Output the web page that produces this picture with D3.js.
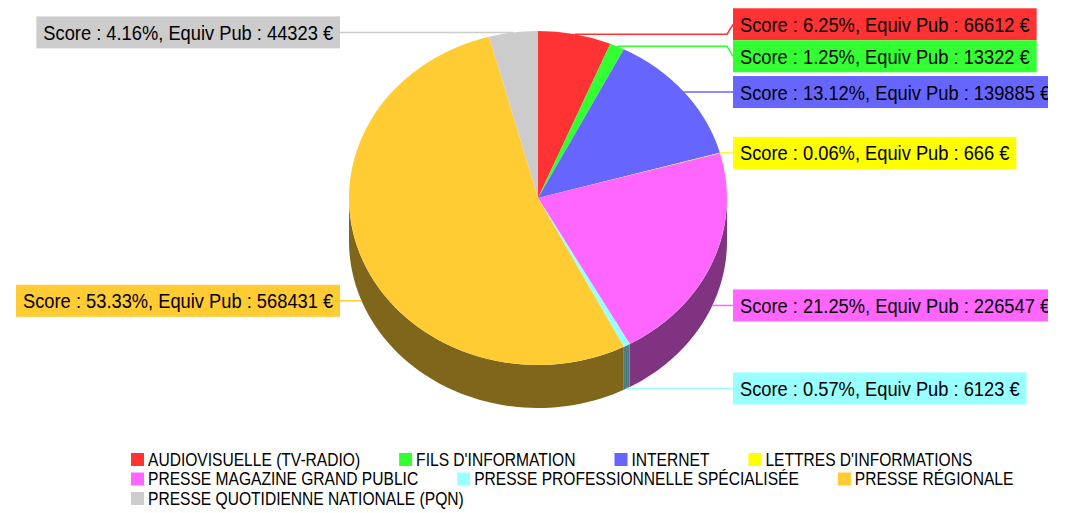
<!DOCTYPE html>
<html>
<head>
<meta charset="utf-8">
<script src="https://cdn.jsdelivr.net/npm/d3@7"></script>
<style>
  body { margin: 0; background: #fff; }
  svg { display: block; font-family: "Liberation Sans", Arial, sans-serif; }
</style>
</head>
<body>
<div id="chart"></div>
<script>
// data
var categories = ["AUDIOVISUELLE (TV-RADIO)", "FILS D'INFORMATION", "INTERNET", "LETTRES D'INFORMATIONS",
    "PRESSE MAGAZINE GRAND PUBLIC", "PRESSE PROFESSIONNELLE SPÉCIALISÉE", "PRESSE RÉGIONALE",
    "PRESSE QUOTIDIENNE NATIONALE (PQN)"];
var scores = [6.25, 1.25, 13.12, 0.06, 21.25, 0.57, 53.33, 4.16];
var equivPub = [66612, 13322, 139885, 666, 226547, 6123, 568431, 44323];
var colors = ["#ff3333", "#33ff33", "#6666ff", "#ffff00", "#ff66ff", "#99ffff", "#ffcc33", "#cccccc"];

var svgWidth = 1066, svgHeight = 513;
var cx = 538, cy = 198, rx = 189, ry = 167, depth = 43;
var yStretch = 1.13;

var svg = d3.select("#chart").append("svg")
    .attr("width", svgWidth)
    .attr("height", svgHeight);

var data = categories.map(function(c, i) {
    return {name: c, score: scores[i], pub: equivPub[i], color: colors[i]};
});

var pie = d3.pie().sort(null).value(d => d.score);
var arcs = pie(data);

function pt(a, dy) {
    return [cx + rx * Math.sin(a), cy - ry * Math.cos(a) + (dy || 0)];
}

// side walls (front half only), half brightness of the slice colour
var sideGroup = svg.append("g");
arcs.forEach(function(a) {
    var a0 = Math.max(a.startAngle, Math.PI / 2);
    var a1 = Math.min(a.endAngle, 3 * Math.PI / 2);
    if (a1 <= a0) return;
    var steps = d3.range(0, 1.0001, 1 / 60).map(t => a0 + (a1 - a0) * t);
    var top = steps.map(s => pt(s, 0));
    var bottom = steps.slice().reverse().map(s => pt(s, depth));
    var c = d3.rgb(a.data.color);
    sideGroup.append("path")
        .attr("d", d3.line()(top.concat(bottom)) + "Z")
        .attr("fill", d3.rgb(c.r / 2, c.g / 2, c.b / 2));
});

// top face
var arcGen = d3.arc().innerRadius(0).outerRadius(ry);
svg.append("g")
    .attr("transform", `translate(${cx},${cy}) scale(${rx / ry},1)`)
    .selectAll("path")
    .data(arcs)
    .enter()
    .append("path")
    .attr("d", arcGen)
    .attr("fill", d => d.data.color);

// labels
var boxH = 32;
var labels = arcs.map(function(a) {
    var mid = (a.startAngle + a.endAngle) / 2;
    var p = pt(mid, Math.cos(mid) < 0 ? depth : 0);
    return {
        d: a.data,
        ax: p[0], ay: p[1], y: p[1],
        right: Math.sin(mid) >= 0,
        text: "Score : " + a.data.score.toFixed(2) + "%, Equiv Pub : " + a.data.pub + " €"
    };
});

// push overlapping boxes apart
[true, false].forEach(function(side) {
    var list = labels.filter(l => l.right === side).sort((a, b) => a.ay - b.ay);
    for (var k = 0; k < 20; k++) {
        for (var i = 1; i < list.length; i++) {
            var ov = list[i - 1].y + boxH - list[i].y;
            if (ov > 0) {
                list[i - 1].y -= ov / 2;
                list[i].y += ov / 2;
            }
        }
    }
});

svg.append("clipPath").attr("id", "clipRight")
    .append("rect").attr("x", 0).attr("y", 0).attr("width", 1048).attr("height", svgHeight);

var labelGroup = svg.append("g").attr("clip-path", "url(#clipRight)");
var rightX = 733, leftX = 340;

labels.forEach(function(l) {
    var g = labelGroup.append("g");
    var line = g.append("path")
        .attr("fill", "none")
        .attr("stroke", l.d.color)
        .attr("stroke-width", 1.5);
    var rect = g.append("rect")
        .attr("y", l.y - boxH / 2)
        .attr("height", boxH)
        .attr("fill", l.d.color);
    var txt = g.append("text")
        .attr("font-size", 18.3)
        .attr("fill", "#000")
        .text(l.text);
    var w = txt.node().getComputedTextLength() + 14;
    var bx = l.right ? rightX : leftX - w;
    rect.attr("x", bx).attr("width", w);
    txt.attr("transform", `translate(${bx + 7},${l.y + 7.5}) scale(1,${yStretch})`);
    if (l.right) {
        line.attr("d", d3.line()([[l.ax, l.ay], [rightX - 6, l.ay], [rightX, l.y]]));
    } else {
        line.attr("d", d3.line()([[l.ax, l.ay], [leftX + 6, l.ay], [leftX, l.y]]));
    }
});

// legend, flowing left to right and wrapping
var legend = svg.append("g");
var lx = 131, ly = 460, maxX = 1040, rowH = 19.5, gap = 39;
data.forEach(function(d) {
    var item = legend.append("g");
    item.append("rect")
        .attr("width", 13).attr("height", 13)
        .attr("fill", d.color);
    var t = item.append("text")
        .attr("font-size", 15.6)
        .attr("fill", "#000")
        .attr("transform", `translate(17,12.5) scale(1,${yStretch})`)
        .text(d.name);
    var w = 17 + t.node().getComputedTextLength();
    if (lx + w > maxX) {
        lx = 131;
        ly += rowH;
    }
    item.attr("transform", `translate(${lx},${ly - 7})`);
    lx += w + gap;
});
</script>
</body>
</html>
